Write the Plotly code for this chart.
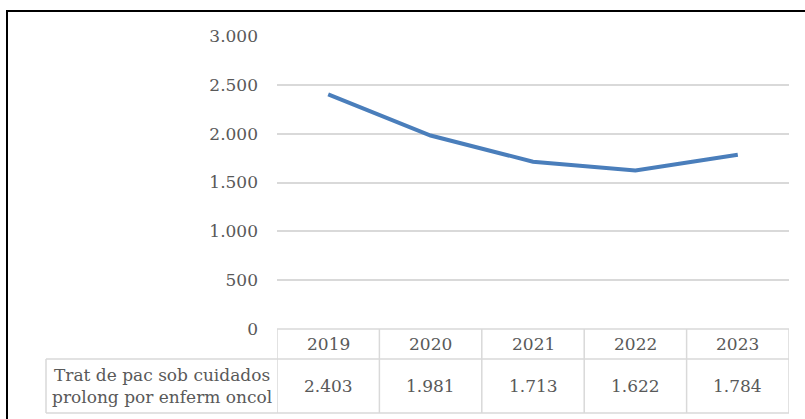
import plotly.graph_objects as go

years = ["2019", "2020", "2021", "2022", "2023"]
values = [2403, 1981, 1713, 1622, 1784]
series_name = "Trat de pac sob cuidados<br>prolong por enferm oncol"
y_ticks = [0, 500, 1000, 1500, 2000, 2500, 3000]

W, H = 805, 419
TEXT = "#595959"
GRID = "#d9d9d9"
FONT = "DejaVu Serif"


def px(x):
    return x / W


def py(y):
    return 1 - y / H


x_dom = [px(277), px(789)]
y_dom = [py(329), py(36)]
row1_bot = 359
row2_bot = 413
head_left = 46

xs = list(range(len(years)))

fig = go.Figure()
fig.add_trace(
    go.Scatter(
        x=xs,
        y=values,
        mode="lines",
        line=dict(color="#4A7EBB", width=4),
        name=series_name,
        showlegend=False,
        hoverinfo="skip",
    )
)

shapes = []
# outer chart border
shapes.append(dict(type="rect", xref="paper", yref="paper",
                   x0=px(7), x1=1.02, y0=-0.02, y1=py(11),
                   line=dict(color="black", width=2)))
# table grid
line = dict(color=GRID, width=1.5)
shapes.append(dict(type="line", xref="x", yref="paper", x0=-0.5, x1=len(years) - 0.5,
                   y0=py(329), y1=py(329), line=line))
for yy in (row1_bot, row2_bot):
    shapes.append(dict(type="line", xref="paper", yref="paper", x0=px(head_left), x1=x_dom[1],
                       y0=py(yy), y1=py(yy), line=line))
for i in range(len(years) + 1):
    shapes.append(dict(type="line", xref="x", yref="paper", x0=i - 0.5, x1=i - 0.5,
                       y0=py(329), y1=py(row2_bot), line=line))
shapes.append(dict(type="line", xref="paper", yref="paper", x0=px(head_left), x1=px(head_left),
                   y0=py(row1_bot), y1=py(row2_bot), line=line))

annotations = []
for i, (yr, v) in enumerate(zip(years, values)):
    annotations.append(dict(x=i, y=py((329 + row1_bot) / 2), xref="x", yref="paper",
                            text=yr, showarrow=False, xanchor="center", yanchor="middle"))
    annotations.append(dict(x=i, y=py((row1_bot + row2_bot) / 2), xref="x", yref="paper",
                            text=f"{v:,}".replace(",", "."), showarrow=False,
                            xanchor="center", yanchor="middle"))
annotations.append(dict(x=px((head_left + 277) / 2), y=py((row1_bot + row2_bot) / 2),
                        xref="paper", yref="paper", text=series_name, showarrow=False,
                        xanchor="center", yanchor="middle"))

fig.update_xaxes(
    domain=x_dom,
    range=[-0.5, len(years) - 0.5],
    showticklabels=False,
    showgrid=False,
    zeroline=False,
    showline=False,
    ticks="",
    automargin=False,
)
fig.update_yaxes(
    domain=y_dom,
    range=[0, 3000],
    tickvals=y_ticks,
    tickformat=",d",
    showgrid=True,
    gridcolor=GRID,
    gridwidth=1.5,
    zeroline=False,
    showline=False,
    ticks="",
    ticklabelstandoff=18,
    automargin=False,
)
fig.update_layout(
    width=W,
    height=H,
    margin=dict(l=0, r=0, t=0, b=0, pad=0, autoexpand=False),
    paper_bgcolor="white",
    plot_bgcolor="white",
    separators=",.",
    font=dict(family=FONT, size=17, color=TEXT),
    shapes=shapes,
    annotations=annotations,
)

# drop the default page margin so the 805x419 figure fills the window exactly
fig.write_html(
    "out.html",
    config={"displayModeBar": False},
    post_script="document.body.style.margin='0';",
)
